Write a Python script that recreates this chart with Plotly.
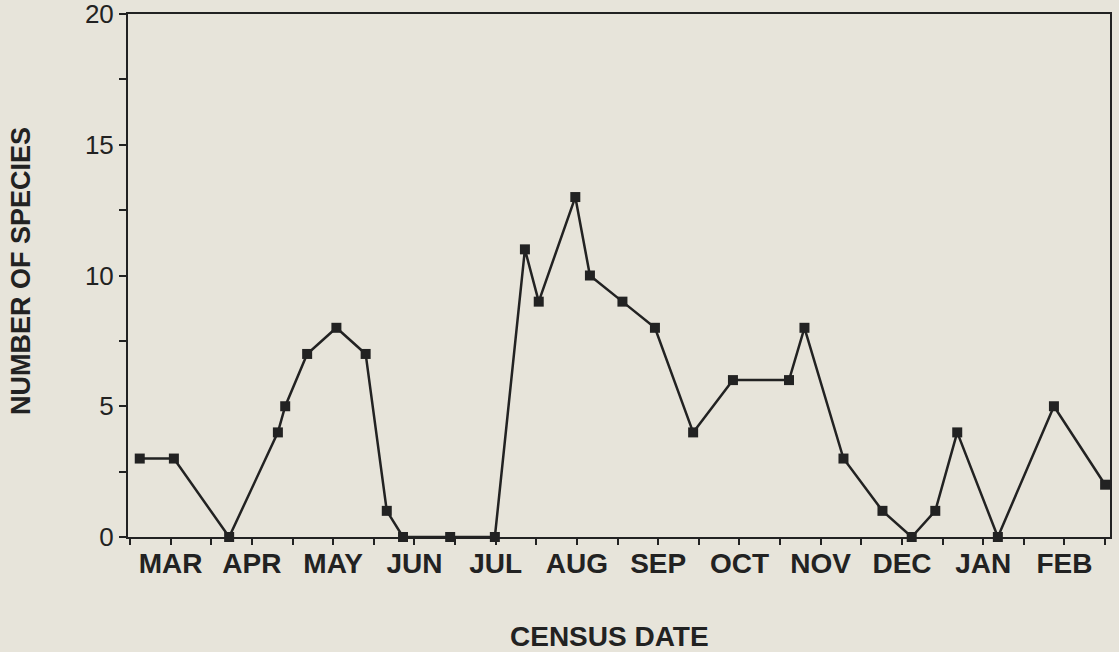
import plotly.graph_objects as go

# Census position in months since 1 March (0 = 1 Mar, 12 = end of Feb)
census_month = [0.12, 0.54, 1.22, 1.82, 1.91, 2.18, 2.54, 2.90, 3.16, 3.36,
                3.94, 4.49, 4.86, 5.03, 5.48, 5.66, 6.06, 6.46, 6.93, 7.42,
                8.11, 8.30, 8.78, 9.26, 9.62, 9.91, 10.18, 10.68, 11.37, 12.0]
species_count = [3, 3, 0, 4, 5, 7, 8, 7, 1, 0,
                 0, 0, 11, 9, 13, 10, 9, 8, 4, 6,
                 6, 8, 3, 1, 0, 1, 4, 0, 5, 2]
month_labels = ["MAR", "APR", "MAY", "JUN", "JUL", "AUG",
                "SEP", "OCT", "NOV", "DEC", "JAN", "FEB"]
y_tick_values = [0, 2.5, 5, 7.5, 10, 12.5, 15, 17.5, 20]
y_tick_labels = ["0", "", "5", "", "10", "", "15", "", "20"]

x_tickvals = [i * 0.5 for i in range(25)]
x_ticktext = [month_labels[i // 2] if i % 2 == 1 else "" for i in range(25)]

ink = "#222222"
bg = "#e7e4da"

fig = go.Figure()
fig.add_trace(go.Scatter(
    x=census_month, y=species_count,
    mode="lines+markers",
    line=dict(color=ink, width=2.5),
    marker=dict(symbol="square", size=10, color=ink),
    cliponaxis=False,
    showlegend=False,
))

fig.update_layout(
    width=1119, height=652,
    margin=dict(l=128, r=9, t=14, b=115),
    paper_bgcolor=bg, plot_bgcolor=bg,
    font=dict(family="Liberation Sans, Arial, sans-serif", color=ink),
    xaxis=dict(
        range=[-0.0246, 12.06],
        automargin=False,
        tickmode="array", tickvals=x_tickvals, ticktext=x_ticktext,
        ticks="outside", ticklen=6, tickwidth=2, tickcolor=ink,
        tickfont=dict(size=28, family="Liberation Sans, Arial, sans-serif", weight="bold"),
        ticklabelstandoff=-6,
        showline=True, linecolor=ink, linewidth=2, mirror=True,
        showgrid=False, zeroline=False,
    ),
    yaxis=dict(
        range=[0, 20],
        automargin=False,
        tickmode="array", tickvals=y_tick_values, ticktext=y_tick_labels,
        ticks="outside", ticklen=7, tickwidth=2, tickcolor=ink,
        tickfont=dict(size=26),
        ticklabeloverflow="allow",
        showline=True, linecolor=ink, linewidth=2, mirror=True,
        showgrid=False, zeroline=False,
    ),
    annotations=[
        dict(text="<b>CENSUS DATE</b>", xref="paper", yref="paper",
             x=(609 - 128) / (1110 - 128), y=-(636 - 537) / (537 - 14),
             showarrow=False, font=dict(size=28, color=ink),
             xanchor="center", yanchor="middle"),
        dict(text="<b>NUMBER OF SPECIES</b>", xref="paper", yref="paper",
             x=-(128 - 21) / (1110 - 128), y=(537 - 271) / (537 - 14),
             textangle=-90, showarrow=False, font=dict(size=27, color=ink),
             xanchor="center", yanchor="middle"),
    ],
)

fig.write_html(
    "out.html",
    config={"displayModeBar": False},
    post_script="document.body.style.margin='0';document.body.style.background='%s';" % bg,
)
